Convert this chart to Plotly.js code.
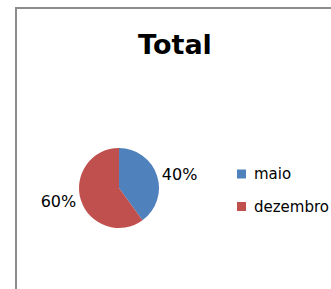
<!DOCTYPE html>
<html>
<head>
<meta charset="utf-8">
<script src="https://cdn.plot.ly/plotly-3.0.1.min.js"></script>
<style>
html,body{margin:0;padding:0;background:#fff;}
#chart{width:331px;height:289px;}
</style>
</head>
<body>
<div id="chart"></div>
<script>
var categories = ["maio", "dezembro"];
var values = [40, 60];
var colors = ["#4F81BD", "#C0504D"];
var chartTitle = "Total";

var W = 331, H = 289;
function px(x){ return x / W; }
function py(y){ return 1 - y / H; }

var trace = {
  type: "pie",
  labels: categories,
  values: values,
  sort: false,
  direction: "clockwise",
  rotation: 0,
  marker: {colors: colors, line: {width: 0}},
  textinfo: "percent",
  texttemplate: "%{percent:.0%}",
  textposition: "outside",
  outsidetextfont: {family: "DejaVu Sans", size: 16, color: "#000"},
  hoverinfo: "label+percent",
  showlegend: false,
  domain: {x: [px(34), px(204)], y: [py(228), py(148)]}
};

/* legend drawn as swatch + text beside the pie */
var legendTop = 174, legendStep = 32.5, swatchX = 237, swatchSize = 9, textX = 252;
var annotations = [], shapes = [];
shapes.push({
  type: "rect", xref: "paper", yref: "paper",
  x0: px(16), x1: 1.05, y0: -0.05, y1: py(8),
  line: {color: "#8c8c8c", width: 2},
  layer: "below"
});
categories.forEach(function(name, i){
  var yc = legendTop + i * legendStep;
  shapes.push({
    type: "rect", xref: "paper", yref: "paper",
    x0: px(swatchX), x1: px(swatchX + swatchSize),
    y0: py(yc + swatchSize / 2), y1: py(yc - swatchSize / 2),
    fillcolor: colors[i], line: {width: 0}
  });
  annotations.push({
    xref: "paper", yref: "paper",
    x: px(textX), y: py(yc), xanchor: "left", yanchor: "middle",
    text: name, showarrow: false,
    font: {family: "DejaVu Sans", size: 15, color: "#000"}
  });
});

var layout = {
  width: W, height: H,
  margin: {l: 0, r: 0, t: 0, b: 0},
  paper_bgcolor: "#fff",
  title: {
    text: "<b>" + chartTitle + "</b>",
    font: {family: "DejaVu Sans", size: 27, color: "#000"},
    x: px(175), xanchor: "center",
    y: py(45), yanchor: "middle"
  },
  showlegend: false,
  shapes: shapes,
  annotations: annotations
};

Plotly.newPlot("chart", [trace], layout, {displayModeBar: false, staticPlot: true});
</script>
</body>
</html>
